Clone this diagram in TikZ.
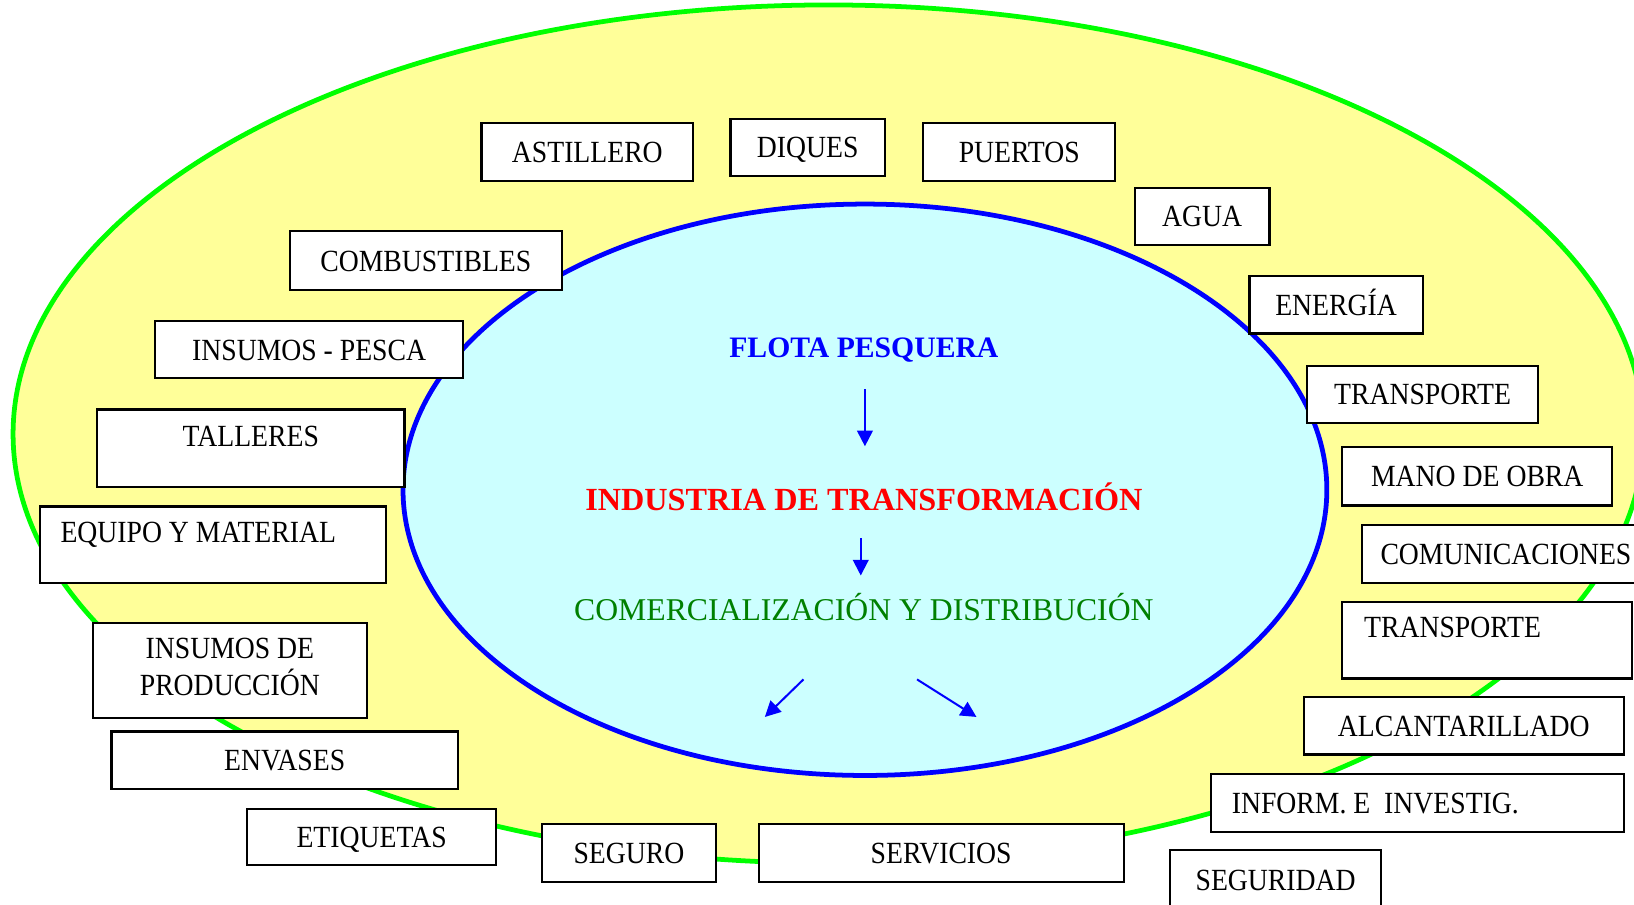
\documentclass[tikz,border=0pt]{standalone}
\usepackage{fontspec}
\setmainfont{Liberation Serif}[FakeStretch=0.9]
\newfontfamily\ctrfont{Liberation Serif}
\usetikzlibrary{arrows.meta,positioning}
\definecolor{amarillo}{HTML}{FFFF99}
\definecolor{verdel}{HTML}{00FF00}
\definecolor{celeste}{HTML}{CCFFFF}
\definecolor{verdet}{HTML}{008000}
\tikzstyle{bx}=[draw=black, fill=white, line width=0.6pt, inner sep=0pt, anchor=north west, font=\fontsize{8.4}{9.7}\selectfont, text height=0.2cm, text depth=0cm, align=center]
\tikzstyle{bxL}=[bx, inner xsep=0.2cm, align=flush left]
\tikzstyle{ctr}=[inner sep=0pt, text height=0.2cm, text depth=0cm]
\tikzstyle{arr}=[draw=blue, line width=0.55pt, -{Triangle[length=0.15cm,width=0.15cm]}]

\begin{document}
\begin{tikzpicture}[x=0.01cm,y=-0.01cm]

                \useasboundingbox (0,0) rectangle (1568,868);

                \draw[fill=amarillo, draw=verdel, line width=1.3pt] (795,416.5) ellipse [x radius=7.82cm, y radius=4.115cm];
                \draw[fill=celeste, draw=blue, line width=1.3pt] (830,470) ellipse [x radius=4.43cm, y radius=2.74cm];

                \draw (829,333) node[ctr, font=\ctrfont\fontsize{8.1}{9.7}\selectfont\bfseries, text=blue] (flota) {FLOTA PESQUERA};
                \draw (829,480) node[ctr, font=\ctrfont\fontsize{8.8}{9.7}\selectfont\bfseries, text=red] (ind) {INDUSTRIA DE TRANSFORMACIÓN};
                \draw (829,585) node[ctr, font=\ctrfont\fontsize{8.65}{9.7}\selectfont, text=verdet] (com) {COMERCIALIZACIÓN Y DISTRIBUCIÓN};
                \coordinate (c1) at (771,652);
                \coordinate (d1) at (734,688);
                \coordinate (c2) at (880,652);
                \coordinate (d2) at (937,688);
                \draw[arr, shorten <=0.30cm, shorten >=0.41cm] ([xshift=0.01cm]flota.south) -- ([xshift=0.01cm]ind.north);
                \draw[arr, shorten <=0.26cm, shorten >=0.22cm] ([xshift=-0.03cm]ind.south) -- ([xshift=-0.03cm]com.north);
                \draw[arr] (c1) -- (d1);
                \draw[arr] (c2) -- (d2);

                \draw (461,117) node[bx, minimum width=2.03cm, minimum height=0.56cm] (astillero) {ASTILLERO};
                \draw (700,113) node[bx, minimum width=1.48cm, minimum height=0.55cm] (diques) {DIQUES};
                \draw (885,117) node[bx, minimum width=1.84cm, minimum height=0.56cm] (puertos) {PUERTOS};
                \draw (1088,179) node[bx, minimum width=1.29cm, minimum height=0.55cm] (agua) {AGUA};
                \draw (277,221) node[bx, minimum width=2.61cm, minimum height=0.56cm] (combust) {COMBUSTIBLES};
                \draw (1198,264) node[bx, minimum width=1.66cm, minimum height=0.55cm] (energia) {ENERGÍA};
                \draw (148,307) node[bx, minimum width=2.95cm, minimum height=0.55cm] (insPesca) {INSUMOS - PESCA};
                \draw (1253,350) node[bx, minimum width=2.22cm, minimum height=0.55cm] (transp1) {TRANSPORTE};
                \draw (92,392) node[bx, minimum width=2.95cm, minimum height=0.74cm, text depth=0.24cm] (talleres) {TALLERES};
                \draw (1287,428) node[bx, minimum width=2.59cm, minimum height=0.56cm] (manoObra) {MANO DE OBRA};
                \draw (37,485) node[bxL, text width=2.92cm, minimum height=0.73cm, text depth=0.23cm] (equipo) {EQUIPO Y MATERIAL};
                \draw (1306,503) node[bx, minimum width=2.76cm, minimum height=0.55cm] (comunic) {COMUNICACIONES};
                \draw (1287,577) node[bxL, inner xsep=0.21cm, text width=2.36cm, minimum height=0.73cm, text depth=0.25cm] (transp2) {TRANSPORTE};
                \draw (88,597) node[bx, minimum width=2.63cm, minimum height=0.91cm, text height=0.54cm, text depth=0.07cm] (insProd) {INSUMOS DE\\[0.3pt]PRODUCCIÓN};
                \draw (1250,668) node[bx, minimum width=3.07cm, minimum height=0.55cm] (alcant) {ALCANTARILLADO};
                \draw (106,701) node[bx, minimum width=3.32cm, minimum height=0.55cm] (envases) {ENVASES};
                \draw (1161,742) node[bxL, text width=3.56cm, minimum height=0.55cm] (inform) {INFORM.\ E\ \ INVESTIG.};
                \draw (236,775) node[bx, minimum width=2.39cm, minimum height=0.54cm] (etiquetas) {ETIQUETAS};
                \draw (519,790) node[bx, minimum width=1.67cm, minimum height=0.55cm] (seguro) {SEGURO};
                \draw (727,790) node[bx, minimum width=3.50cm, minimum height=0.55cm] (servicios) {SERVICIOS};
                \draw (1122,815) node[bx, minimum width=2.02cm, minimum height=0.56cm] (seguridad) {SEGURIDAD};

\end{tikzpicture}
\end{document}
